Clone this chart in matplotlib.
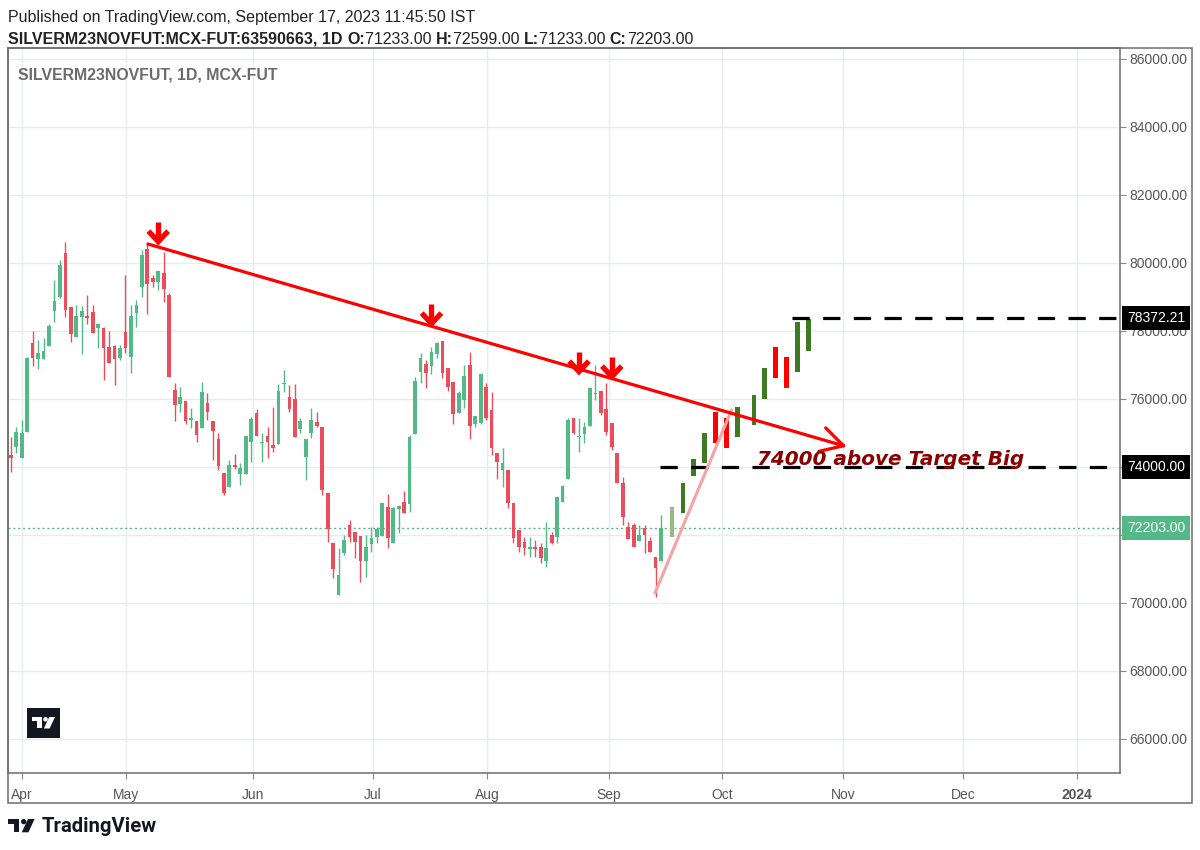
import numpy as np
import matplotlib
matplotlib.use("Agg")
import matplotlib.pyplot as plt
import matplotlib.transforms as mtransforms
from matplotlib.patches import Rectangle, Polygon, Ellipse
from matplotlib import font_manager

# daily candles SILVERM23NOVFUT (bar index 0 = first bar on the chart, last = Sep 15)
opens = [74352, 74597, 74254, 75029, 77637, 77166, 77166, 77558, 78597, 79009,
         80284, 78695, 77833, 78421, 78440, 78548, 78097, 78078, 77519, 77558,
         77195, 77960, 77244, 78519, 79303, 80401, 79568, 79450, 79695, 79058,
         76264, 75852, 75940, 75382, 75352, 75137, 75872, 75352, 74813, 73813,
         73421, 74058, 73784, 73784, 74744, 75597, 74695, 74911, 74646, 74666,
         76431, 76068, 76009, 75107, 74303, 75009, 75313, 75166, 73225, 71754,
         70235, 71460, 72293, 72098, 71970, 71245, 71735, 71951, 71970, 72813,
         71754, 72754, 72960, 72911, 74960, 76803, 77019, 76980, 77313, 77705,
         76902, 76490, 75598, 75970, 77000, 75254, 75304, 76343, 75676, 74402,
         73911, 73911, 72931, 72147, 71804, 71578, 71637, 71637, 71245, 72000,
         71951, 72980, 73637, 75431, 74892, 74970, 75206, 76147, 76235, 75696,
         75284, 74421, 73519, 72245, 72294, 71833, 72196, 71833, 71343, 71233]
highs = [74891, 75166, 75382, 77244, 77999, 77735, 77784, 78205, 79499, 80088,
         80627, 78695, 78764, 78744, 79058, 78764, 78225, 78127, 77999, 77587,
         77587, 79646, 78764, 78911, 80382, 80558, 79646, 79774, 80333, 79127,
         76480, 76342, 75940, 75725, 75352, 76490, 76166, 75352, 74990, 73813,
         74205, 74382, 74107, 74911, 75480, 75695, 75009, 75186, 75754, 76441,
         76852, 76411, 76441, 75431, 74813, 75725, 75627, 75166, 73225, 71754,
         71607, 71999, 72441, 72098, 71970, 72000, 72245, 72245, 72931, 73196,
         72833, 72882, 73294, 74941, 76637, 77343, 77147, 77519, 77686, 77705,
         76902, 76490, 76245, 77000, 77392, 75500, 76774, 76460, 76215, 74402,
         74549, 73911, 72931, 72147, 71951, 71951, 71853, 71755, 72392, 72098,
         73108, 73470, 75431, 75431, 75431, 75333, 76362, 77000, 76235, 76460,
         75284, 74421, 73715, 72392, 72362, 72294, 72294, 71951, 71343, 72599]
lows = [73862, 74401, 74254, 75029, 76980, 76882, 77166, 77558, 78274, 78960,
        78421, 77686, 77833, 77313, 78205, 77931, 77489, 76558, 77048, 76411,
        77146, 77342, 76774, 78107, 78989, 78499, 79303, 79205, 78862, 76656,
        75352, 75627, 75264, 75136, 74744, 75137, 75382, 74205, 73911, 73176,
        73421, 73931, 73470, 73784, 74156, 74921, 74156, 74254, 74450, 74666,
        76215, 75627, 74892, 75009, 73617, 74842, 75186, 73176, 71803, 70744,
        70235, 71411, 71803, 71313, 70627, 70754, 71509, 71754, 71970, 71607,
        71754, 72049, 72637, 72686, 74960, 76460, 76313, 76735, 77196, 76607,
        76245, 75254, 75578, 75725, 74813, 75186, 75254, 75382, 74352, 73647,
        73421, 72784, 71755, 71509, 71411, 71362, 71362, 71186, 71068, 71735,
        71755, 72980, 73637, 74970, 74451, 74696, 75206, 75970, 75529, 74941,
        74500, 73519, 72294, 71872, 71637, 71833, 71460, 71509, 70186, 71233]
closes = [74254, 75029, 74989, 77195, 77195, 77342, 77411, 78146, 78882, 79940,
          78617, 77901, 78440, 78588, 78372, 77931, 78195, 77489, 77048, 77166,
          77489, 77489, 78440, 78764, 80235, 79372, 79450, 79774, 79225, 76656,
          75823, 76068, 75352, 75431, 74940, 76195, 75627, 75068, 74039, 73225,
          74058, 73990, 73960, 74911, 75401, 74921, 74735, 74725, 74548, 76235,
          76460, 75695, 74892, 75362, 74813, 75382, 75215, 73323, 72176, 70990,
          70823, 71852, 71950, 71803, 71245, 71637, 71901, 72166, 72931, 71901,
          72784, 72853, 72637, 74892, 76529, 77196, 76754, 77372, 77656, 76754,
          76362, 75558, 76166, 76676, 75215, 75500, 76725, 75431, 74549, 74156,
          74108, 72931, 71902, 71657, 71607, 71637, 71578, 71313, 71607, 71755,
          73108, 73441, 75382, 74990, 74921, 75166, 76313, 76186, 75598, 75039,
          74598, 73519, 72539, 71872, 71637, 72000, 72000, 71509, 71019, 72203]

# month labels on the time axis (bar index of the tick)
month_pos = [2.1, 21.1, 44.3, 66.3, 87.2, 109.5, 130.2, 152.3, 174.3, 195.1]
month_lbl = ["Apr", "May", "Jun", "Jul", "Aug", "Sep", "Oct", "Nov", "Dec", "2024"]
price_ticks = list(range(66000, 86001, 2000))

# hand drawn projection bars (bars pattern)
proj_idx = [121, 123, 125, 127, 129, 131, 133, 136, 138, 140, 142, 144, 146]
proj_low = [71932, 72638, 73735, 74109, 74715, 74550, 74873, 75235, 76000, 76626, 76332, 76785, 77420]
proj_high = [72815, 73521, 74226, 74991, 75626, 75432, 75756, 76118, 76903, 77538, 77244, 78273, 78344]
proj_up = [1, 1, 1, 1, 0, 0, 1, 1, 1, 0, 0, 1, 1]

# drawings
trend_start = (25.1, 80559)
trend_end = (153.0, 74597)
rise_start = (117.9, 70294)
rise_end = (131.9, 75676)
arrow_idx = [27, 77, 104, 110]
arrow_tip = [80588, 78176, 76765, 76618]
target_lvl = 74000.0
target_from = 118.8
high_lvl = 78372.21
high_from = 142.9
last_close = 72203.0

GREEN = "#53b987"
RED = "#eb4d5c"

names = {f.name for f in font_manager.fontManager.ttflist}
NARROW = "Liberation Sans Narrow" if "Liberation Sans Narrow" in names else "Liberation Sans"
SANS = "Liberation Sans"

W, H = 1200, 850
fig = plt.figure(figsize=(12, 8.5), dpi=100)
fig.patch.set_facecolor("white")

ax = fig.add_axes([8 / W, 1 - 773 / H, (1120 - 8) / W, (773 - 48) / H])
ax.set_xlim(-0.5, 203)
ax.set_ylim(65000, 86323)

# candles
o = np.array(opens); h = np.array(highs); l = np.array(lows); c = np.array(closes)
x = np.arange(len(o))
cols = np.where(c >= o, GREEN, RED)
ax.vlines(x, l, h, color=cols, lw=1, zorder=3)
ax.bar(x, np.maximum(np.abs(c - o), 30), bottom=np.minimum(o, c), width=0.68,
       color=cols, lw=0, zorder=4)

# projection bars
pcols = ["#3d7a22" if u else "#ff0000" for u in proj_up]
pcols[0] = "#93bb86"
ax.bar(proj_idx, np.array(proj_high) - np.array(proj_low), bottom=proj_low,
       width=0.85, color=pcols, lw=0, zorder=5)

# last price line
ax.axhline(last_close, color=GREEN, lw=1, ls=(0, (1.5, 2)), zorder=2)

# dashed levels
ax.hlines([target_lvl, high_lvl], [target_from, high_from], 202.6, colors="black",
          lw=2.3, linestyles=[(0, (5.4, 4.2))], zorder=5)

# trend line with open arrow head
ax.annotate("", xy=trend_end, xytext=trend_start,
            arrowprops=dict(arrowstyle="->,head_length=1.0,head_width=0.55", color="#ff0000",
                            lw=2.3, shrinkA=0, shrinkB=0, mutation_scale=16), zorder=6)
ax.plot([rise_start[0], rise_end[0]], [rise_start[1], rise_end[1]],
        color="#f6a3a3", lw=2.2, zorder=5, solid_capstyle="round")

# red down arrows
for xi, tip in zip(arrow_idx, arrow_tip):
    ax.plot([xi, xi], [tip + 150, tip + 620], color="#ff0000", lw=3.8,
            solid_capstyle="butt", zorder=7)
    ax.plot([xi - 1.8, xi, xi + 1.8], [tip + 350, tip + 40, tip + 350],
            color="#ff0000", lw=3.8, solid_joinstyle="miter", solid_capstyle="butt", zorder=7)

note = ax.text(136.6, 74060, "74000 above Target Big", color="#8a0000", fontsize=14,
               fontweight="bold", fontstyle="italic", family="DejaVu Sans",
               va="baseline", ha="left", zorder=8)

# axes styling
ax.set_yticks(price_ticks)
ax.set_yticklabels(["" if v == target_lvl else f"{v:.2f}" for v in price_ticks])
ax.yaxis.tick_right()
ax.set_xticks(month_pos)
ax.set_xticklabels(month_lbl)
ax.tick_params(axis="y", length=4, color="#888888", labelcolor="#555555",
               labelsize=10, pad=3)
ax.tick_params(axis="x", length=4, color="#888888", labelcolor="#555555",
               labelsize=10, pad=7)
for t in ax.get_yticklabels() + ax.get_xticklabels():
    t.set_family(SANS)
ax.get_xticklabels()[-1].set_fontweight("bold")
ax.grid(True, color="#e6edf2", lw=1, zorder=0)
ax.set_axisbelow(True)
for s in ax.spines.values():
    s.set_color("#6e6e6e")
    s.set_linewidth(1.1)

# price labels on the scale
tr = mtransforms.blended_transform_factory(ax.transAxes, ax.transData)
tr_off = mtransforms.offset_copy(tr, fig=fig, x=7, y=0, units="dots")
for val, txt, fc in [(high_lvl, "78372.21", "black"), (target_lvl, "74000.00", "black"),
                     (last_close, "72203.00", GREEN)]:
    ax.text(1.0, val, txt, transform=tr_off, va="center", ha="left",
            color="white", fontsize=10, family=SANS, clip_on=False, zorder=10,
            bbox=dict(boxstyle="square,pad=0.36", fc=fc, ec="none"))

# overlay in pixel coordinates for frame, header and logos
ov = fig.add_axes([0, 0, 1, 1], zorder=20)
ov.set_xlim(0, W)
ov.set_ylim(H, 0)
ov.axis("off")
ov.add_patch(Rectangle((8, 48), 1184, 755, fill=False, ec="#6e6e6e", lw=1.1))

renderer = fig.canvas.get_renderer()


def fit(t, width):
    w = t.get_window_extent(renderer).width
    t.set_fontsize(t.get_fontsize() * width / w)


def tv_logo(x0, y0, s, color):
    ov.add_patch(Rectangle((x0, y0), 12 * s, 5 * s, fc=color, ec="none"))
    ov.add_patch(Rectangle((x0 + 6 * s, y0), 6 * s, 14 * s, fc=color, ec="none"))
    ov.add_patch(Ellipse((x0 + 16.5 * s, y0 + 2.8 * s), 5.6 * s, 5.6 * s, fc=color, ec="none"))
    ov.add_patch(Polygon([(x0 + 21 * s, y0), (x0 + 28 * s, y0), (x0 + 21.5 * s, y0 + 14 * s),
                          (x0 + 14.5 * s, y0 + 14 * s)], closed=True, fc=color, ec="none"))


t1 = ov.text(8, 17, "Published on TradingView.com, September 17, 2023 11:45:50 IST",
             family=NARROW, fontsize=10, color="#222222", va="center", ha="left")
fit(t1, 470)
fs = t1.get_fontsize()

pieces = [("SILVERM23NOVFUT:MCX-FUT:63590663, 1D ", "bold"), ("O:", "bold"), ("71233.00 ", "normal"),
          ("H:", "bold"), ("72599.00 ", "normal"), ("L:", "bold"), ("71233.00 ", "normal"),
          ("C:", "bold"), ("72203.00", "normal")]
xc = 8
for s, wgt in pieces:
    t = ov.text(xc, 39, s, family=NARROW, fontsize=fs, fontweight=wgt, color="#222222",
                va="center", ha="left")
    xc += t.get_window_extent(renderer).width

t3 = ov.text(18, 75, "SILVERM23NOVFUT, 1D, MCX-FUT", family=NARROW, fontsize=10,
             fontweight="bold", color="#6b6b6b", va="center", ha="left")
fit(t3, 260)
fit(note, 268)

# logo inside chart
ov.add_patch(Rectangle((27, 708), 33, 30, fc="#131722", ec="none"))
tv_logo(32, 717, 0.82, "white")

# footer
tv_logo(8, 819, 0.95, "#131722")
t4 = ov.text(42, 826, "TradingView", family="Roboto", fontweight="bold", fontsize=13,
             color="#131722", va="center", ha="left")
fit(t4, 115)

fig.savefig("out.png", dpi=100, facecolor="white")
